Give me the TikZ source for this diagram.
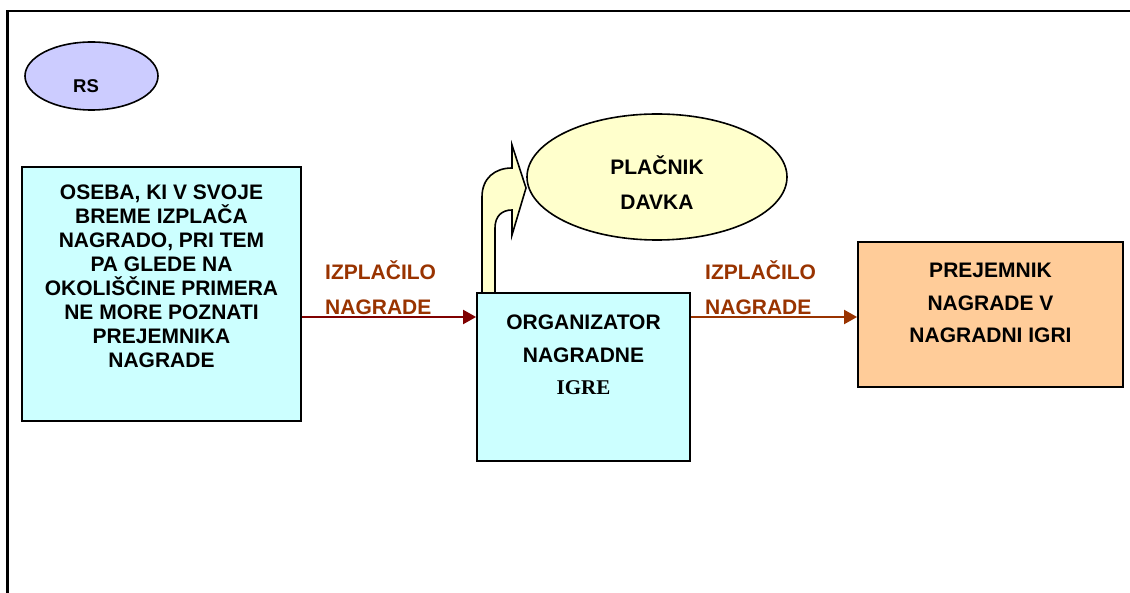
\documentclass[tikz,border=0pt]{standalone}
\usepackage{fontspec}
\setmainfont{Liberation Sans}
\newfontfamily\timesfont{Liberation Serif}
\usetikzlibrary{arrows.meta,calc,shapes.geometric}
\definecolor{boxcyan}{HTML}{CCFFFF}
\definecolor{boxpeach}{HTML}{FFCC99}
\definecolor{paleyellow}{HTML}{FFFFCC}
\definecolor{lavender}{HTML}{CCCCFF}
\definecolor{darkred}{HTML}{800000}
\definecolor{rust}{HTML}{993300}
\tikzset{
  frameline/.style={line width=2.5pt},
  box/.style={draw=black, line width=1.8pt, rectangle, inner sep=0pt},
  oval/.style={draw=black, line width=1.6pt, ellipse, inner sep=0pt},
  txt/.style={inner sep=0pt, align=center, anchor=north,
    font={\fontsize{21}{24}\selectfont\bfseries}},
  flowlabel/.style={inner sep=0pt, align=left, anchor=north west, text=rust,
    font={\fontsize{21}{35}\selectfont\bfseries}},
  flowA/.style={draw=darkred, line width=2pt, -{Triangle[length=13pt,width=14pt]}},
  flowB/.style={draw=rust, line width=2pt, -{Triangle[length=13pt,width=14pt]}},
  bentarrow/.style={draw=black, line width=1.6pt, fill=paleyellow, line join=miter},
}
\begin{document}
\begin{tikzpicture}[x=1pt,y=-1pt]
\useasboundingbox (0,0) rectangle (1130,593);
\fill[white] (0,0) rectangle (1130,593);

% open frame: top and left edges
\draw[frameline] (7.5,593) -- (7.5,11) -- (1130,11);

% bent block arrow from the organiser up to the tax payer
\draw[bentarrow] (482,293) -- (482,197)
  .. controls (482,178) and (495,168) .. (512,168)
  -- (512,145) -- (526,188) -- (512,235) -- (512,210)
  .. controls (502,210) and (495,216) .. (495,228)
  -- (495,293);

% ovals
\node[oval, fill=lavender, minimum width=133pt, minimum height=68pt] (rs) at (91.5,76) {};
\node[inner sep=0pt, anchor=base, font={\fontsize{18.5}{22}\selectfont\bfseries}] (rsText) at (86,92.5) {RS};

\node[oval, fill=paleyellow, minimum width=260pt, minimum height=126pt] (payer) at (657,177) {};
\node[txt, font={\fontsize{21}{35}\selectfont\bfseries}] (payerText) at (657,154.5)
  {\rule{0pt}{20pt}PLAČNIK\\DAVKA};

% boxes
\node[box, fill=boxcyan, minimum width=279pt, minimum height=254pt] (src) at (161.5,294) {};
\node[box, fill=boxcyan, minimum width=213pt, minimum height=168pt] (org) at (583.5,377) {};
\node[box, fill=boxpeach, minimum width=265pt, minimum height=145pt] (rec) at (990.5,314.5) {};

\node[txt] (srcText) at (161.5,179.5)
  {\rule{0pt}{20pt}OSEBA, KI V SVOJE\\BREME IZPLAČA\\NAGRADO, PRI TEM\\PA GLEDE NA\\OKOLIŠČINE PRIMERA\\NE MORE POZNATI\\PREJEMNIKA\\NAGRADE};
\node[txt, font={\fontsize{21}{32.5}\selectfont\bfseries}] (orgText) at (583.5,309.5)
  {\rule{0pt}{20pt}ORGANIZATOR\\NAGRADNE\\{\timesfont IGRE}};
\node[txt, font={\fontsize{21}{32.5}\selectfont\bfseries}] (recText) at (990.5,257.5)
  {\rule{0pt}{20pt}PREJEMNIK\\NAGRADE V\\NAGRADNI IGRI};

% payment flows
\coordinate (flow) at (0,317);
\draw[flowA] (src.east |- flow) -- (org.west |- flow);
\draw[flowB] (org.east |- flow) -- (rec.west |- flow);

\node[flowlabel] (labA) at (325,259.5) {\rule{0pt}{20pt}IZPLAČILO\\NAGRADE};
\node[flowlabel] (labB) at (705,259.5) {\rule{0pt}{20pt}IZPLAČILO\\NAGRADE};
\end{tikzpicture}
\end{document}
